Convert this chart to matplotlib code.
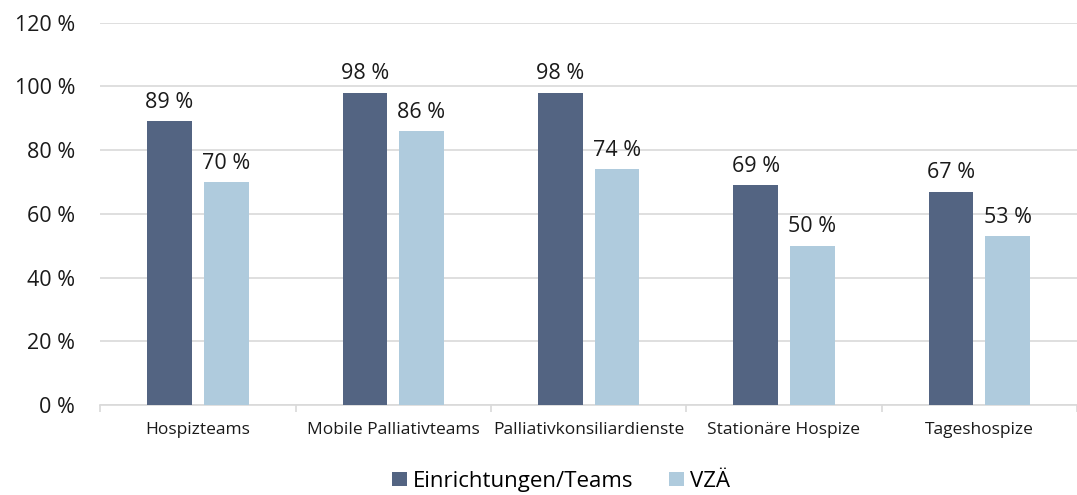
import numpy as np
import matplotlib
matplotlib.use("Agg")
import matplotlib.pyplot as plt

plt.rcParams['font.family'] = ['Open Sans', 'DejaVu Sans']

# data
kategorien = ['Hospizteams', 'Mobile Palliativteams', 'Palliativkonsiliardienste',
              'Stationäre Hospize', 'Tageshospize']
einrichtungen = [89, 98, 98, 69, 67]
vzae = [70, 86, 74, 50, 53]
serien = ['Einrichtungen/Teams', 'VZÄ']
farben = ['#536482', '#AFCBDD']

fig = plt.figure(figsize=(10.77, 4.95), dpi=100)
ax = fig.add_axes([0.093, 0.182, 0.907, 0.772])

x = np.arange(len(kategorien))
w = 0.229
gap = 0.061
off = (w + gap) / 2

for i, (vals, name) in enumerate(zip([einrichtungen, vzae], serien)):
    pos = x + (-off if i == 0 else off)
    bars = ax.bar(pos, vals, width=w, color=farben[i], label=name, zorder=3)
    for b, v in zip(bars, vals):
        ax.annotate(f'{v} %', (b.get_x() + b.get_width() / 2, v),
                    xytext=(0, 6), textcoords='offset points',
                    ha='center', va='bottom', fontsize=15.5, color='#1a1a1a')

ax.set_xlim(-0.5, len(kategorien) - 0.5)
ax.set_ylim(0, 120)
ax.set_yticks(np.arange(0, 121, 20))
ax.set_yticklabels([f'{v} %' for v in range(0, 121, 20)], fontsize=15.5, color='#1a1a1a')
ax.tick_params(axis='y', length=0, pad=18)
ax.yaxis.grid(True, color='#D9D9D9', linewidth=1.2, zorder=0)

ax.set_xticks(x)
ax.set_xticklabels(kategorien, fontsize=12.5, color='#1a1a1a')
ax.tick_params(axis='x', length=0, pad=12)
ax.set_xticks(np.arange(-0.5, len(kategorien)), minor=True)
ax.tick_params(axis='x', which='minor', length=5, color='#D9D9D9', width=1.2)

for s in ['top', 'right', 'left']:
    ax.spines[s].set_visible(False)
ax.spines['bottom'].set_color('#D9D9D9')
ax.spines['bottom'].set_linewidth(1.2)

ax.legend(loc='center', bbox_to_anchor=(0.472, -0.2), ncol=2, frameon=False,
          fontsize=16, handlelength=0.65, handleheight=0.65, handletextpad=0.3,
          columnspacing=1.6)

plt.savefig('out.png', dpi=100)
